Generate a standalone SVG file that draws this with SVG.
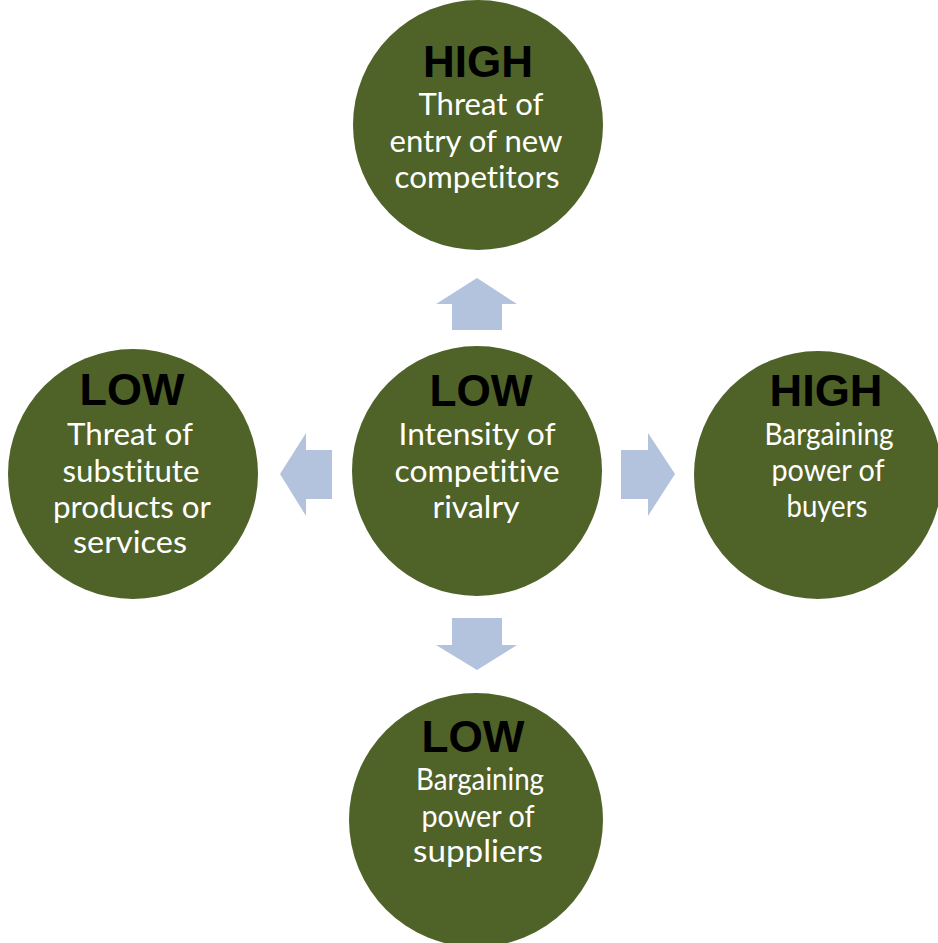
<svg xmlns="http://www.w3.org/2000/svg" width="938" height="943" viewBox="0 0 938 943">
<style>
.c{fill:#4F6228}
.a{fill:#B3C3DE}
.h{font-family:"Liberation Sans",Arial,sans-serif;font-weight:bold;font-size:45px;fill:#000;text-anchor:middle}
.t{font-family:Lato,"Liberation Sans",sans-serif;font-size:31px;fill:#FFFFFF;text-anchor:middle;font-variant-ligatures:none;font-feature-settings:"liga" 0}
</style>
<rect width="938" height="943" fill="#FFFFFF"/>
<g id="connectors">
<polygon class="a" points="452,330 452,304 436,304 477,278 517,304 502,304 502,330"/>
<polygon class="a" points="332,450 306,450 306,433 280,474 306,516 306,499 332,499"/>
<polygon class="a" points="621,450 648,450 648,433 675,474 648,516 648,499 621,499"/>
<polygon class="a" points="452,618 452,645 436,645 477,670 517,645 502,645 502,618"/>
</g>
<g id="top">
<circle class="c" cx="478" cy="125" r="125"/>
<text class="h" x="478" y="77" textLength="110" lengthAdjust="spacingAndGlyphs">HIGH</text>
<text class="t" x="481" y="115" textLength="125" lengthAdjust="spacingAndGlyphs">Threat of</text>
<text class="t" x="476" y="152" textLength="173" lengthAdjust="spacingAndGlyphs">entry of new</text>
<text class="t" x="477" y="188" textLength="165" lengthAdjust="spacingAndGlyphs">competitors</text>
</g>
<g id="left">
<circle class="c" cx="133" cy="474" r="125"/>
<text class="h" x="132" y="405" textLength="105" lengthAdjust="spacingAndGlyphs">LOW</text>
<text class="t" x="130" y="445" textLength="126" lengthAdjust="spacingAndGlyphs">Threat of</text>
<text class="t" x="131" y="482" textLength="137" lengthAdjust="spacingAndGlyphs">substitute</text>
<text class="t" x="132" y="518" textLength="158" lengthAdjust="spacingAndGlyphs">products or</text>
<text class="t" x="130" y="553" textLength="114" lengthAdjust="spacingAndGlyphs">services</text>
</g>
<g id="center">
<circle class="c" cx="477" cy="471" r="125"/>
<text class="h" x="481" y="406" textLength="103" lengthAdjust="spacingAndGlyphs">LOW</text>
<text class="t" x="477" y="445" textLength="157" lengthAdjust="spacingAndGlyphs">Intensity of</text>
<text class="t" x="477" y="482" textLength="165" lengthAdjust="spacingAndGlyphs">competitive</text>
<text class="t" x="476" y="518" textLength="87" lengthAdjust="spacingAndGlyphs">rivalry</text>
</g>
<g id="right">
<circle class="c" cx="818" cy="475" r="124"/>
<text class="h" x="826" y="406" textLength="113" lengthAdjust="spacingAndGlyphs">HIGH</text>
<text class="t" x="829" y="445" textLength="129" lengthAdjust="spacingAndGlyphs">Bargaining</text>
<text class="t" x="828" y="481" textLength="113" lengthAdjust="spacingAndGlyphs">power of</text>
<text class="t" x="827" y="517" textLength="81" lengthAdjust="spacingAndGlyphs">buyers</text>
</g>
<g id="bottom">
<circle class="c" cx="476" cy="820" r="127"/>
<text class="h" x="473" y="752" textLength="103" lengthAdjust="spacingAndGlyphs">LOW</text>
<text class="t" x="480" y="790" textLength="128" lengthAdjust="spacingAndGlyphs">Bargaining</text>
<text class="t" x="478" y="827" textLength="113" lengthAdjust="spacingAndGlyphs">power of</text>
<text class="t" x="478" y="862" textLength="130" lengthAdjust="spacingAndGlyphs">suppliers</text>
</g>
</svg>
